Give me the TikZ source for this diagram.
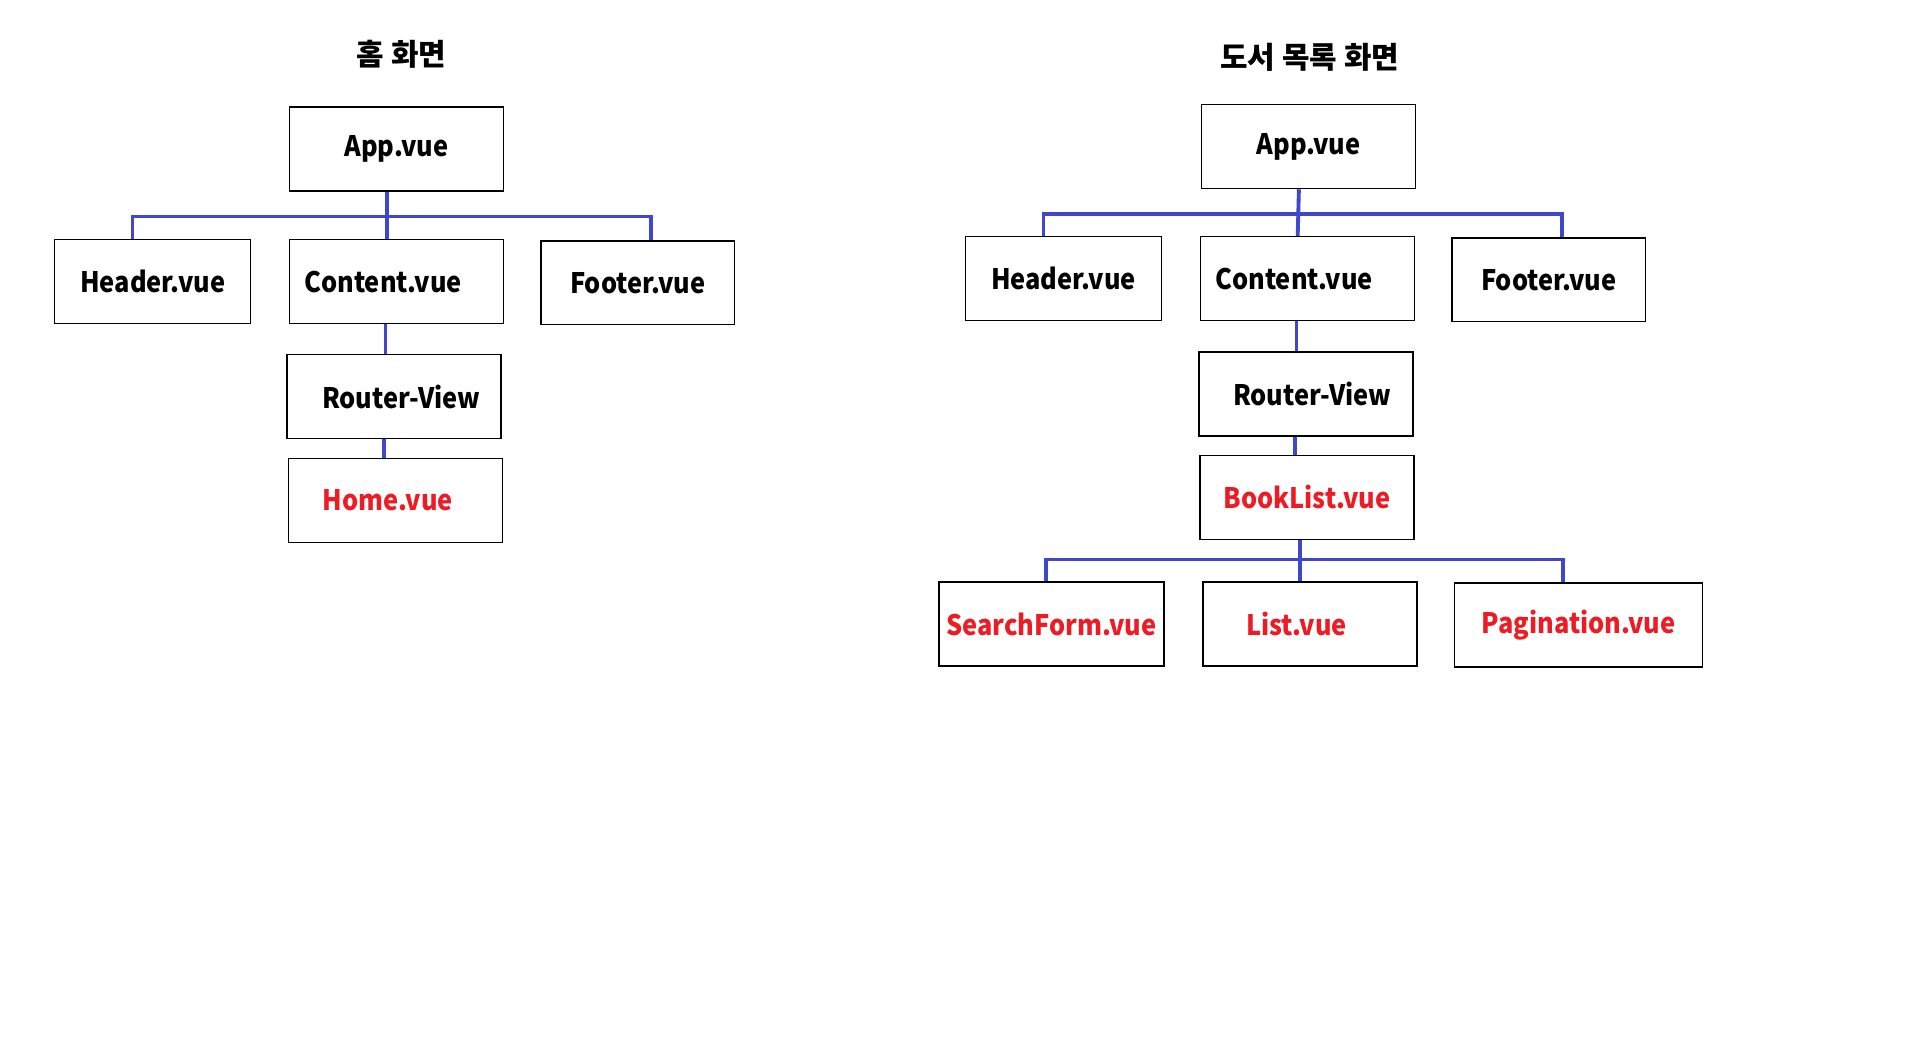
\documentclass[tikz,border=0pt]{standalone}
\usepackage{fontspec}
\setmainfont{Noto Sans CJK KR}
\newfontfamily\boxfont[FakeStretch=0.9]{Noto Sans CJK KR}
\usetikzlibrary{positioning}
\definecolor{linkblue}{RGB}{63,72,204}
\definecolor{pagered}{RGB}{237,28,36}
\tikzset{
  box/.style={draw, line width=0.7pt, inner sep=0pt, minimum width=3.52cm,
    minimum height=1.38cm, font=\boxfont\fontsize{13.2}{15}\selectfont\bfseries},
  page/.style={text=pagered},
  title/.style={font=\fontsize{14}{16}\selectfont\bfseries},
  link/.style={draw=linkblue, line width=1.8pt}
}

\begin{document}
\begin{tikzpicture}[x=0.02cm, y=-0.02cm]
  \useasboundingbox (0,0) rectangle (1568,867);

  % home screen
  \node[title] (ttl1) at (330,45) {홈 화면};
  \node[box] (app1) at (326,122.5) {App.vue};
  \node[box, minimum width=3.22cm] (hdr1) at (125.5,231.5) {Header.vue};
  \node[box] (cnt1) at (326,231.5) {Content.vue\kern0.44cm};
  \node[box, minimum width=3.18cm] (ftr1) at (524.5,232.5) {Footer.vue};
  \node[box] (rtr1) at (324,326) {\kern0.24cm Router-View};
  \node[box, page] (home1) at (325,411.5) {Home.vue\kern0.24cm};
  \coordinate (bus1) at (318,178);

  \draw[link] ([xshift=-0.16cm]app1.south) -- ([xshift=-0.16cm]cnt1.north);
  \draw[link] ([xshift=-0.33cm]hdr1.north) |- (bus1) -| ([xshift=0.21cm]ftr1.north);
  \draw[link] ([xshift=-0.18cm]cnt1.south) -- ([xshift=-0.18cm]cnt1.south |- rtr1.north);
  \draw[link] ([xshift=-0.16cm]rtr1.south) -- ([xshift=-0.16cm]rtr1.south |- home1.north);

  % book list screen
  \node[title] (ttl2) at (1077,47) {도서 목록 화면};
  \node[box] (app2) at (1076,120.5) {App.vue};
  \node[box, minimum width=3.22cm] (hdr2) at (874.5,229) {Header.vue};
  \node[box] (cnt2) at (1075,229) {Content.vue\kern0.44cm};
  \node[box, minimum width=3.18cm] (ftr2) at (1273.5,230) {Footer.vue};
  \node[box] (rtr2) at (1074,324) {\kern0.2cm Router-View};
  \node[box, page] (book2) at (1074.5,409) {BookList.vue};
  \node[box, page, minimum width=3.7cm] (srch2) at (864.5,513) {SearchForm.vue};
  \node[box, page] (list2) at (1077,513) {List.vue\kern0.44cm};
  \node[box, page, minimum width=4.08cm] (pag2) at (1298,514) {Pagination.vue};
  \coordinate (bus2) at (1068,176);
  \coordinate (bus3) at (1069,460);

  \draw[link] ([xshift=-0.16cm]app2.south) -- ([xshift=-0.16cm]cnt2.north);
  \draw[link] ([xshift=-0.33cm]hdr2.north) |- (bus2) -| ([xshift=0.21cm]ftr2.north);
  \draw[link] ([xshift=-0.18cm]cnt2.south) -- ([xshift=-0.18cm]cnt2.south |- rtr2.north);
  \draw[link] ([xshift=-0.18cm]rtr2.south) -- ([xshift=-0.18cm]rtr2.south |- book2.north);
  \draw[link] ([xshift=-0.11cm]book2.south) -- ([xshift=-0.11cm]book2.south |- list2.north);
  \draw[link] ([xshift=-0.09cm]srch2.north) |- (bus3) -| ([xshift=-0.26cm]pag2.north);
\end{tikzpicture}
\end{document}
